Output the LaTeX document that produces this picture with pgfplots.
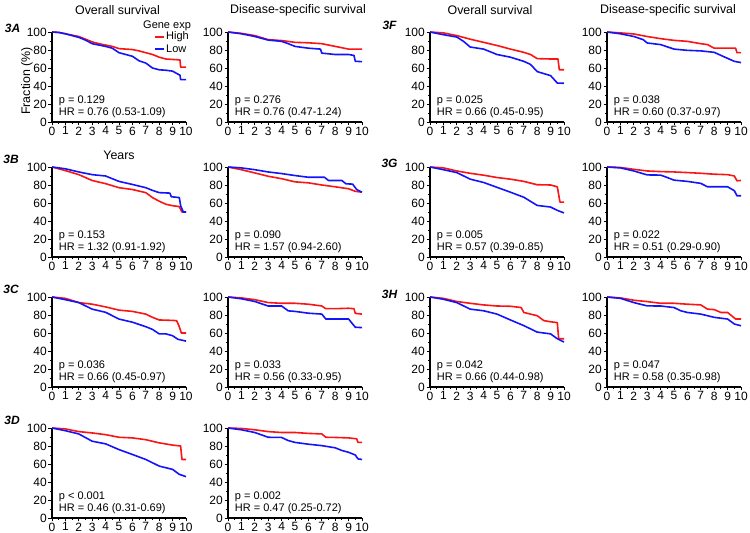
\documentclass[border=0pt]{standalone}
\usepackage{fontspec}
\setmainfont{Liberation Sans}
\usepackage{pgfplots}
\pgfplotsset{compat=1.18}
\newcommand{\tickfont}{\fontsize{12}{12}\selectfont}
\newcommand{\annfont}{\fontsize{11}{11}\selectfont}
\newcommand{\titfont}{\fontsize{12.4}{12.4}\selectfont}
\pgfplotsset{kmstyle/.style={
  anchor=south west, width=134pt, height=90pt, scale only axis,
  xmin=0, xmax=10, ymin=0, ymax=100,
  axis x line*=bottom, axis y line*=left,
  axis line style={line width=1.1pt, -},
  xtick={0,...,10}, ytick={0,20,...,100},
  minor x tick num=1, minor y tick num=1,
  tick align=outside, major tick length=3.5pt, minor tick length=2pt,
  every tick/.style={black, line width=0.9pt},
  tick label style={font=\tickfont},
  xticklabel style={inner sep=1pt},
  yticklabel style={inner sep=1.5pt},
  /pgf/number format/assume math mode=true,
  clip=false,
}}
\pgfplotsset{rl/.style={color={rgb,255:red,250;green,20;blue,20}, line width=1.6pt, line join=round},
             bl/.style={color={rgb,255:red,20;green,20;blue,250}, line width=1.6pt, line join=round}}
\newcommand{\kmpanel}[6]{%
\begin{axis}[kmstyle, at={(#1pt,#2pt)}]
\addplot[rl] coordinates {#3};
\addplot[bl] coordinates {#4};
\node[anchor=west, inner sep=0pt, font=\annfont] at (axis cs:0.5,24) {p #5};
\node[anchor=west, inner sep=0pt, font=\annfont] at (axis cs:0.5,10) {HR = #6};
\end{axis}}
\begin{document}
\begin{tikzpicture}
\path[use as bounding box] (0pt,0pt) rectangle (750pt,533pt);
% ---- 3A
\kmpanel{52}{411}{(0,100)(0.5,99.5)(1,98)(1.5,96.5)(2,95)(2.5,92)(3,89)(3.5,87)(4,85.5)(4.5,84)(5,81.5)(5.5,81)(6,80.5)(6.5,79)(7,77)(7.5,75)(8,72)(8.5,70)(9,69.5)(9.55,69)(9.6,61)(10,61)}
{(0,100)(0.5,99.5)(1,98)(1.5,96)(2,94)(2.5,91)(3,87)(3.5,85.5)(4,84)(4.5,82)(5,77)(5.5,75)(6,73)(6.5,68)(7,65.5)(7.5,60)(8,58)(8.5,57.5)(9,56.5)(9.3,54)(9.55,52)(9.6,47)(10,47)}
{= 0.129}{0.76 (0.53-1.09)}
\kmpanel{228}{411}{(0,100)(1,98.5)(2,96)(3,91.5)(4,90.5)(5,88.5)(6,88)(7,87)(8,84)(9,81)(10,81)}
{(0,100)(1,98)(2,95)(3,91)(4,89.6)(4.5,87)(5,84)(6,82)(6.9,81)(7,76.5)(8,75)(9,75)(9.4,74)(9.5,67.5)(10,67)}
{= 0.276}{0.76 (0.47-1.24)}
% ---- 3B
\kmpanel{52}{276}{(0,100)(1,96)(2,91.5)(3,85)(4,81.5)(5,77)(6,75)(7,71.5)(7.5,66)(8,62)(8.5,58.6)(9,57)(9.5,56)(9.6,53)(9.7,50)(10,50)}
{(0,100)(1,98)(2,94.5)(3,91.5)(4,90)(5,84)(6,80.6)(7,77)(7.5,74)(8,71.5)(8.8,71)(8.9,67)(9.5,66)(9.6,57)(9.8,50)(10,50)}
{= 0.153}{1.32 (0.91-1.92)}
\kmpanel{228}{276}{(0,100)(1,97)(2,93.4)(3,89.7)(4,87)(5,83.5)(6,82.4)(7,80)(8,78)(9,75.8)(9.5,73)(10,72)}
{(0,100)(1,99)(2,97)(3,94.5)(4,92.7)(5,90.5)(6,88.6)(7.2,88.6)(7.5,85)(8.5,85)(8.8,81.3)(9.3,81)(9.6,75)(10,72)}
{= 0.090}{1.57 (0.94-2.60)}
% ---- 3C
\kmpanel{52}{146}{(0,100)(1,98.5)(2,93.8)(3,92)(4,89)(5,85.4)(6,84)(7,81)(7.5,77.4)(8,74.5)(9,74)(9.3,73.7)(9.5,67)(9.65,60)(10,60)}
{(0,100)(1,97)(2,93.8)(3,86.5)(4,83)(5,75.5)(6,72)(7,67)(7.5,64)(8,59)(8.5,59)(9,57)(9.4,53)(10,51)}
{= 0.036}{0.66 (0.45-0.97)}
\kmpanel{228}{146}{(0,100)(1,99)(2,97)(3,93.8)(4,93)(5,93)(6,92)(7,90)(7.3,87)(8,87)(9,87.5)(9.4,87)(9.5,81.8)(10,81)}
{(0,100)(1,98)(2,95)(3,90)(4,90)(4.5,84.6)(5,84)(6,82)(7,81)(7.3,75.5)(9,75.5)(9.5,66.4)(10,66)}
{= 0.033}{0.56 (0.33-0.95)}
% ---- 3D
\kmpanel{52}{15}{(0,100)(1,99)(2,96)(3,94.5)(4,92.6)(5,89.7)(6,89)(7,87)(8,83.5)(9,81)(9.6,80)(9.7,65)(10,65)}
{(0,100)(1,97)(2,93.4)(3,85.3)(4,82.4)(5,76)(6,70.6)(7,65)(8,57.7)(9,54)(9.5,48.5)(10,46)}
{< 0.001}{0.46 (0.31-0.69)}
\kmpanel{228}{15}{(0,100)(1,99.5)(2,98)(3,96)(4,95)(5,95)(6,94)(7,93.4)(7.3,89.7)(8,89.5)(9,89)(9.6,88)(9.7,84)(10,84)}
{(0,100)(1,98)(2,95)(3,89.7)(4,89.5)(4.5,86)(5,84)(6,82)(7,80.4)(8,78)(8.5,75)(9,73)(9.5,70)(9.7,65.7)(10,65)}
{= 0.002}{0.47 (0.25-0.72)}
% ---- 3F
\kmpanel{430}{411}{(0,100)(1,99)(2,96)(3,92)(4,88.5)(5,85)(6,81)(7,77.4)(7.5,75)(8,70.4)(9,70)(9.55,70)(9.65,58)(10,58)}
{(0,100)(1,97)(2,94.4)(2.5,89.6)(3,83.3)(4,81)(5,75)(6,72)(7,67.4)(7.5,64)(8,56)(9,51.5)(9.5,43.3)(10,43)}
{= 0.025}{0.66 (0.45-0.95)}
\kmpanel{607}{411}{(0,100)(1,99)(2,97.8)(3,95)(4,92.6)(5,90.7)(6,89.6)(7,87)(7.5,86)(8,82)(9,82)(9.6,82)(9.7,77)(10,77)}
{(0,100)(1,98)(2,95)(2.7,91.5)(3,87.8)(4,86)(5,81)(6,79.6)(7,79)(8,77.4)(8.8,72)(9.5,67.4)(10,66)}
{= 0.038}{0.60 (0.37-0.97)}
% ---- 3G
\kmpanel{430}{276}{(0,100)(1,99)(2,95.6)(3,93)(4,90.9)(5,88.3)(6,86.5)(7,84)(8,80.3)(9,80)(9.5,78)(9.7,61)(10,61)}
{(0,100)(1,97)(2,93.8)(3,86.5)(4,82.8)(5,77.4)(6,72)(7,66.4)(8,57.3)(9,55.5)(9.5,51.8)(10,49)}
{= 0.005}{0.57 (0.39-0.85)}
\kmpanel{607}{276}{(0,100)(1,99.5)(2,97.4)(3,95.6)(4,94.9)(5,94.5)(6,93.8)(7,93)(8,92)(9,91.5)(9.5,90)(9.7,84.7)(10,85)}
{(0,100)(1,99)(2,95.6)(3,91.2)(4,91)(4.5,88.3)(5,85.4)(6,84)(7,81.8)(7.5,78)(9,78)(9.5,73.7)(9.7,68)(10,68)}
{= 0.022}{0.51 (0.29-0.90)}
% ---- 3H
\kmpanel{430}{146}{(0,100)(1,98.5)(2,95)(3,93)(4,91.2)(5,90)(6,89.7)(6.8,88.3)(7,82.8)(8,79.2)(8.5,73.7)(9,72.5)(9.5,71.5)(9.6,53.6)(10,53.6)}
{(0,100)(1,97.5)(2,93.8)(3,86.5)(4,84.7)(5,81)(6,74.5)(7,68.2)(8,61)(9,59)(9.5,53.6)(10,50)}
{= 0.042}{0.66 (0.44-0.98)}
\kmpanel{607}{146}{(0,100)(1,99)(2,96.4)(3,94.9)(4,93)(5,93)(6,92)(7,91.2)(7.5,86.5)(8,86)(8.5,82.8)(9,82.8)(9.6,75.5)(10,75.5)}
{(0,100)(1,98.5)(2,93.8)(3,90.1)(4,90)(5,88.3)(5.5,84.7)(6,82.8)(7,81)(8,77.4)(9,75.5)(9.5,70)(10,68)}
{= 0.047}{0.58 (0.35-0.98)}
% ---- titles and labels
\node[font=\titfont] at (117.5pt,523pt) {Overall survival};
\node[font=\titfont] at (298pt,523pt) {Disease-specific survival};
\node[font=\titfont] at (490pt,523pt) {Overall survival};
\node[font=\titfont] at (668pt,523pt) {Disease-specific survival};
\node[font=\titfont] at (119pt,378pt) {Years};
\node[font=\titfont, rotate=90] at (27pt,452pt) {Fraction (\%)};
\foreach \lab/\x/\y in {3A/12.5/505, 3B/11/374, 3C/11/244, 3D/12/113, 3F/389.5/508, 3G/389.5/370, 3H/389.5/239}
  \node[font=\fontsize{12}{12}\selectfont\bfseries\itshape] at (\x pt,\y pt) {\lab};
% legend
\node[font=\annfont, anchor=west, inner sep=0pt] at (143pt,507pt) {Gene exp};
\draw[color={rgb,255:red,250;green,20;blue,20}, line width=1.6pt] (155pt,496pt) -- (164pt,496pt);
\node[font=\annfont, anchor=west, inner sep=0pt] at (166pt,496pt) {High};
\draw[color={rgb,255:red,20;green,20;blue,250}, line width=1.6pt] (155pt,484pt) -- (164pt,484pt);
\node[font=\annfont, anchor=west, inner sep=0pt] at (166pt,484pt) {Low};
\end{tikzpicture}
\end{document}
